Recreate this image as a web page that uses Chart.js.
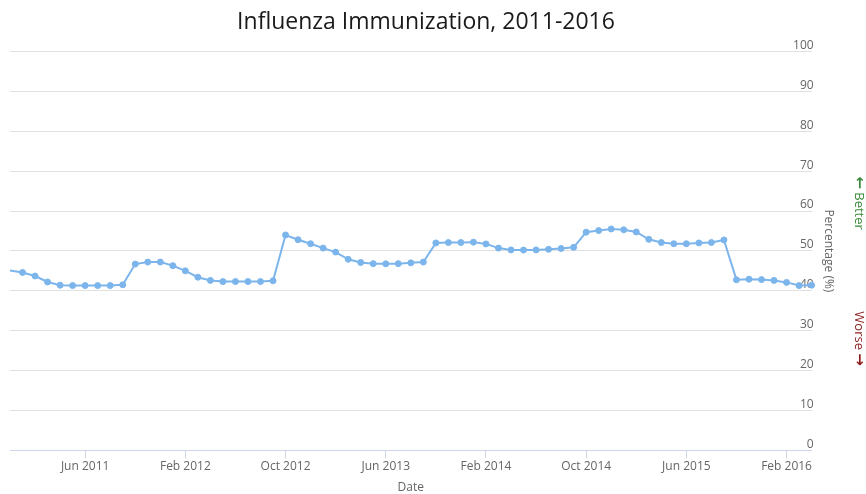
<!DOCTYPE html>
<html>
<head>
<meta charset="utf-8">
<title>Influenza Immunization, 2011-2016</title>
<script src="https://cdn.jsdelivr.net/npm/chart.js@4"></script>
<style>
  body { margin: 0; background: #fff; }
</style>
</head>
<body>
<canvas id="chart" width="866" height="494"></canvas>
<script>
// Datos (porcentaje mensual)
const months = [
  "Dec 2010",
  "Jan 2011", "Feb 2011", "Mar 2011", "Apr 2011", "May 2011", "Jun 2011",
  "Jul 2011", "Aug 2011", "Sep 2011", "Oct 2011", "Nov 2011", "Dec 2011",
  "Jan 2012", "Feb 2012", "Mar 2012", "Apr 2012", "May 2012", "Jun 2012",
  "Jul 2012", "Aug 2012", "Sep 2012", "Oct 2012", "Nov 2012", "Dec 2012",
  "Jan 2013", "Feb 2013", "Mar 2013", "Apr 2013", "May 2013", "Jun 2013",
  "Jul 2013", "Aug 2013", "Sep 2013", "Oct 2013", "Nov 2013", "Dec 2013",
  "Jan 2014", "Feb 2014", "Mar 2014", "Apr 2014", "May 2014", "Jun 2014",
  "Jul 2014", "Aug 2014", "Sep 2014", "Oct 2014", "Nov 2014", "Dec 2014",
  "Jan 2015", "Feb 2015", "Mar 2015", "Apr 2015", "May 2015", "Jun 2015",
  "Jul 2015", "Aug 2015", "Sep 2015", "Oct 2015", "Nov 2015", "Dec 2015",
  "Jan 2016", "Feb 2016", "Mar 2016", "Apr 2016"
];

const percentages = [
  45.1,
  44.6, 43.7, 42.2, 41.4, 41.3, 41.3, 41.3, 41.3, 41.5, 46.7, 47.2, 47.2,
  46.3, 45.0, 43.4, 42.6, 42.3, 42.3, 42.3, 42.3, 42.5, 54.0, 52.8, 51.8,
  50.7, 49.7, 47.9, 47.1, 46.8, 46.75, 46.8, 47.0, 47.2, 52.0, 52.1, 52.1,
  52.2, 51.75, 50.7, 50.25, 50.2, 50.25, 50.4, 50.6, 50.9, 54.7, 55.1, 55.5,
  55.3, 54.75, 52.9, 52.1, 51.8, 51.8, 52.0, 52.1, 52.75, 42.75, 42.9, 42.8,
  42.6, 42.1, 41.3, 41.4
];

const xTickLabels = ["Jun 2011", "Feb 2012", "Oct 2012", "Jun 2013", "Feb 2014", "Oct 2014", "Jun 2015", "Feb 2016"];
const yTicks = [0, 10, 20, 30, 40, 50, 60, 70, 80, 90, 100];

const titleText = "Influenza Immunization, 2011-2016";

Chart.defaults.font.family = "'Open Sans', sans-serif";
Chart.defaults.color = "#666666";

// Etiquetas "Better" / "Worse" a la derecha (flecha en negrita)
const sideLabels = {
  id: "sideLabels",
  afterDraw(chart) {
    const ctx = chart.ctx;
    const y = chart.scales.y;
    const x = chart.width - 7;
    const items = [
      { parts: [["\u2190", true], [" Better", false]], color: "#3b8a3b", py: y.getPixelForValue(62) },
      { parts: [["Worse ", false], ["\u2192", true]], color: "#8b1c1c", py: y.getPixelForValue(28) },
    ];
    const fontFor = (bold) => (bold ? "bold 15px 'DejaVu Sans', sans-serif" : "13px 'Open Sans', sans-serif");
    ctx.save();
    ctx.textBaseline = "middle";
    ctx.textAlign = "left";
    items.forEach((item) => {
      let total = 0;
      item.parts.forEach(([t, b]) => {
        ctx.font = fontFor(b);
        total += ctx.measureText(t).width;
      });
      ctx.save();
      ctx.translate(x, item.py);
      ctx.rotate(Math.PI / 2);
      ctx.fillStyle = item.color;
      let cx = -total / 2;
      item.parts.forEach(([t, b]) => {
        ctx.font = fontFor(b);
        ctx.fillText(t, cx, 0);
        cx += ctx.measureText(t).width;
      });
      ctx.restore();
    });
    ctx.restore();
  },
};

new Chart(document.getElementById("chart").getContext("2d"), {
  type: "line",
  data: {
    labels: months,
    datasets: [
      {
        label: "Percentage",
        data: percentages,
        borderColor: "#7cb5ec",
        backgroundColor: "#7cb5ec",
        borderWidth: 2,
        pointRadius: (ctx) => (ctx.dataIndex === 0 ? 0 : 3),
        pointBorderWidth: 1,
        pointBorderColor: "#7cb5ec",
        pointBackgroundColor: "#7cb5ec",
        tension: 0,
      },
    ],
  },
  options: {
    responsive: false,
    animation: false,
    layout: { padding: { left: 10, right: 24, top: 0, bottom: 0 } },
    plugins: {
      legend: { display: false },
      tooltip: { enabled: false },
      title: {
        display: true,
        text: titleText,
        color: "#1a1a1a",
        font: { size: 23, weight: "normal" },
        padding: { top: 9, bottom: 15 },
      },
    },
    scales: {
      x: {
        type: "category",
        offset: false,
        grid: {
          drawOnChartArea: false,
          drawTicks: true,
          tickLength: 8,
          tickColor: (ctx) => (ctx.tick && ctx.tick.label ? "#ccd6eb" : "rgba(0,0,0,0)"),
        },
        border: { display: true, color: "#ccd6eb", width: 1 },
        ticks: {
          autoSkip: false,
          maxRotation: 0,
          minRotation: 0,
          padding: 1,
          font: { size: 12 },
          color: "#666666",
          callback: function (value) {
            const lbl = this.getLabelForValue(value);
            return xTickLabels.includes(lbl) ? lbl : "";
          },
        },
        title: {
          display: true,
          text: "Date",
          color: "#666666",
          font: { size: 12 },
          padding: { top: 6, bottom: -1 },
        },
      },
      y: {
        position: "right",
        min: 0,
        max: 100,
        afterBuildTicks: (scale) => {
          scale.ticks = yTicks.map((v) => ({ value: v }));
        },
        grid: { color: "#e0e0e0", drawTicks: false },
        border: { display: false },
        ticks: {
          mirror: true,
          padding: 2,
          labelOffset: -6,
          font: { size: 12 },
          color: "#666666",
        },
        title: {
          display: true,
          text: "Percentage (%)",
          color: "#666666",
          font: { size: 12 },
          padding: { top: 6, bottom: 6 },
        },
      },
    },
  },
  plugins: [sideLabels],
});
</script>
</body>
</html>
